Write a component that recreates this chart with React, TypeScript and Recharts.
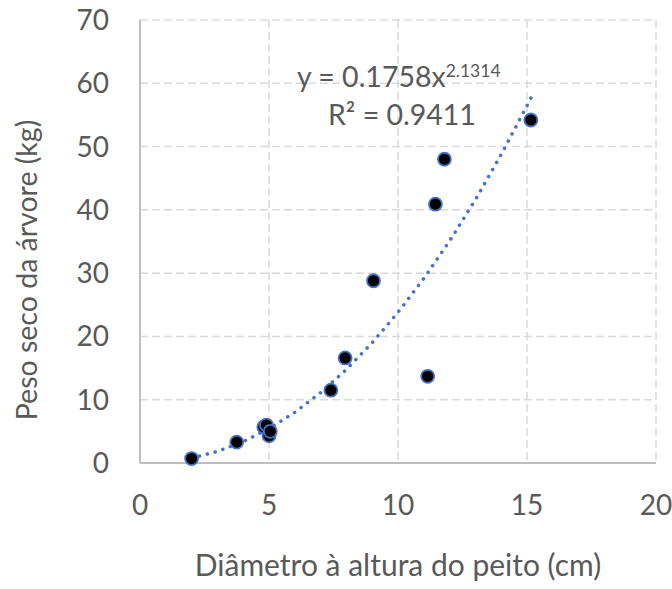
import { ScatterChart, Scatter, XAxis, YAxis, CartesianGrid, Customized } from 'recharts'

// diâmetro (cm) e peso seco (kg)
const dap = [2.0, 3.75, 4.8, 4.9, 5.0, 5.05, 7.4, 7.95, 9.05, 11.15, 11.45, 11.8, 15.15]
const peso = [0.7, 3.3, 5.7, 6.0, 4.3, 5.0, 11.5, 16.6, 28.8, 13.7, 40.9, 48.0, 54.2]

const xTicks = [0, 5, 10, 15, 20]
const yTicks = [0, 10, 20, 30, 40, 50, 60, 70]

// coeficientes da linha de tendência (potência) mostrados no gráfico
const trendA = 0.1758
const trendB = 2.1314
const trendX = [2, 3, 4, 5, 6, 7, 8, 9, 10, 11, 12, 13, 14, 15, 15.2]

const points = dap.map((x, i) => ({ x, y: peso[i] }))
const trend = trendX.map((x) => ({ x, y: trendA * Math.pow(x, trendB) }))

const font = 'Lato, "Open Sans", sans-serif'
const textColor = '#595959'
const blue = '#4472C4'

const Dot = (props: any) => (
  <circle cx={props.cx} cy={props.cy} r={6.5} fill="#000" stroke={blue} strokeWidth={1.8} />
)

const Texts = () => (
  <g fontFamily={font} fill={textColor}>
    <text x={37} y={270} fontSize={28.5} textAnchor="middle" transform="rotate(-90 37 270)">
      Peso seco da árvore (kg)
    </text>
    <text x={297} y={87} fontSize={28.5}>
      y = 0.1758x
      <tspan fontSize={17.5} dy={-10}>2.1314</tspan>
    </text>
    <text x={328} y={125} fontSize={28.5}>
      R² = 0.9411
    </text>
  </g>
)

export default function App() {
  return (
    <div style={{ position: 'absolute', left: 0, top: 0, width: 672, height: 589, background: '#fff' }}>
      <ScatterChart width={672} height={589} margin={{ top: 20, right: 16, left: 0, bottom: 0 }}>
        <CartesianGrid stroke="#d9d9d9" strokeWidth={1.5} strokeDasharray="8 4" />
        <XAxis
          type="number"
          dataKey="x"
          domain={[0, 20]}
          ticks={xTicks}
          height={126}
          tickSize={0}
          tickMargin={32}
          axisLine={{ stroke: '#bfbfbf', strokeWidth: 2 }}
          tick={{ fill: textColor, fontSize: 28, fontFamily: font }}
          label={{
            value: 'Diâmetro à altura do peito (cm)',
            position: 'insideBottom',
            offset: 13,
            fill: textColor,
            fontSize: 30,
            fontFamily: font,
          }}
        />
        <YAxis
          type="number"
          dataKey="y"
          domain={[0, 70]}
          ticks={yTicks}
          width={140}
          tickSize={0}
          tickMargin={31}
          axisLine={{ stroke: '#bfbfbf', strokeWidth: 2 }}
          tick={{ fill: textColor, fontSize: 28, fontFamily: font }}
        />
        <Scatter
          data={trend}
          line={{ stroke: blue, strokeWidth: 3.5, strokeDasharray: '0.1 8', strokeLinecap: 'round' }}
          lineType="joint"
          shape={() => <g />}
          isAnimationActive={false}
        />
        <Scatter data={points} shape={Dot} isAnimationActive={false} />
        <Customized component={Texts} />
      </ScatterChart>
    </div>
  )
}
